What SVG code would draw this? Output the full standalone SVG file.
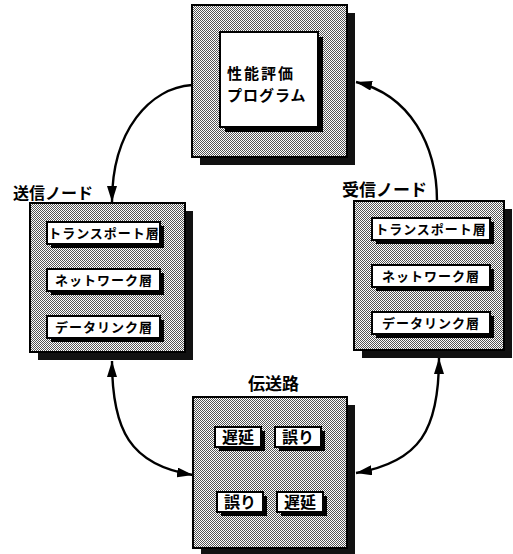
<svg xmlns="http://www.w3.org/2000/svg" width="513" height="554" viewBox="0 0 513 554">
<defs>
<pattern id="dither" width="2" height="2" patternUnits="userSpaceOnUse">
<rect width="2" height="2" fill="#ffffff"/>
<rect x="0" y="0" width="1" height="1" fill="#555"/>
<rect x="1" y="1" width="1" height="1" fill="#555"/>
</pattern>
<marker id="arr" markerWidth="16" markerHeight="10" refX="16" refY="5" orient="auto-start-reverse" markerUnits="userSpaceOnUse">
<path d="M0,0 L16,5 L0,10 z" fill="#000"/>
</marker>
</defs>
<style>
.panel{fill:url(#dither);stroke:#000;stroke-width:2}
.shadow{fill:#111}
.card{fill:#fff;stroke:#000;stroke-width:2}
.cshadow{fill:#000}
.t{font-family:"Noto Sans CJK JP","Noto Sans CJK SC",sans-serif;font-weight:bold;fill:#000}
.layer{font-size:13px;text-anchor:middle;letter-spacing:1px}
.lbl{font-size:16px}
.big{font-size:17px}
.prog{font-size:15px}
.conn{fill:none;stroke:#000;stroke-width:2.4}
</style>

<g id="program">
<rect class="shadow" x="200" y="13" width="155" height="152"/>
<rect class="panel" x="192" y="5" width="155" height="152"/>
<rect class="cshadow" x="225" y="37" width="98" height="95"/>
<rect class="card" x="220" y="32" width="98" height="95"/>
<text class="t prog" x="227" y="79" letter-spacing="2">性能評価</text>
<text class="t prog" x="227" y="101" letter-spacing="1">プログラム</text>
</g>

<g id="sender">
<text class="t lbl" x="13" y="199">送信ノード</text>
<rect class="shadow" x="38" y="211" width="155" height="149"/>
<rect class="panel" x="30" y="203" width="155" height="149"/>
<rect class="cshadow" x="51" y="226" width="113" height="22"/>
<rect class="card" x="47" y="222" width="113" height="22"/>
<text class="t layer" x="104" y="238">トランスポート層</text>
<rect class="cshadow" x="51" y="273" width="113" height="22"/>
<rect class="card" x="47" y="269" width="113" height="22"/>
<text class="t layer" x="104" y="285">ネットワーク層</text>
<rect class="cshadow" x="51" y="320" width="113" height="22"/>
<rect class="card" x="47" y="316" width="113" height="22"/>
<text class="t layer" x="104" y="332">データリンク層</text>
</g>

<g id="receiver">
<text class="t big" x="342" y="196">受信ノード</text>
<rect class="shadow" x="362" y="209" width="150" height="149"/>
<rect class="panel" x="354" y="201" width="150" height="149"/>
<rect class="cshadow" x="376" y="222" width="118" height="22"/>
<rect class="card" x="372" y="218" width="118" height="22"/>
<text class="t layer" x="431" y="234">トランスポート層</text>
<rect class="cshadow" x="376" y="269" width="118" height="22"/>
<rect class="card" x="372" y="265" width="118" height="22"/>
<text class="t layer" x="431" y="281">ネットワーク層</text>
<rect class="cshadow" x="376" y="316" width="118" height="22"/>
<rect class="card" x="372" y="312" width="118" height="22"/>
<text class="t layer" x="431" y="328">データリンク層</text>
</g>

<g id="channel">
<text class="t big" x="248" y="390">伝送路</text>
<rect class="shadow" x="201" y="405" width="154" height="151"/>
<rect class="panel" x="193" y="397" width="154" height="151"/>
<rect class="cshadow" x="219" y="431" width="46" height="20"/>
<rect class="card" x="215" y="427" width="46" height="20"/>
<text class="t lbl" x="238" y="443" text-anchor="middle">遅延</text>
<rect class="cshadow" x="279" y="431" width="46" height="20"/>
<rect class="card" x="275" y="427" width="46" height="20"/>
<text class="t lbl" x="298" y="443" text-anchor="middle">誤り</text>
<rect class="cshadow" x="221" y="496" width="46" height="20"/>
<rect class="card" x="217" y="492" width="46" height="20"/>
<text class="t lbl" x="240" y="508" text-anchor="middle">誤り</text>
<rect class="cshadow" x="281" y="496" width="46" height="20"/>
<rect class="card" x="277" y="492" width="46" height="20"/>
<text class="t lbl" x="300" y="508" text-anchor="middle">遅延</text>
</g>

<g id="connectors">
<path class="conn" d="M192,85 C150,88 112,130 112,202" marker-end="url(#arr)"/>
<path class="conn" d="M437,201 C437,145 410,95 356,82" marker-end="url(#arr)"/>
<path class="conn" d="M112,361 C112,430 130,465 193,475" marker-start="url(#arr)" marker-end="url(#arr)"/>
<path class="conn" d="M439,358 C439,430 420,462 356,473" marker-start="url(#arr)" marker-end="url(#arr)"/>
</g>
</svg>
